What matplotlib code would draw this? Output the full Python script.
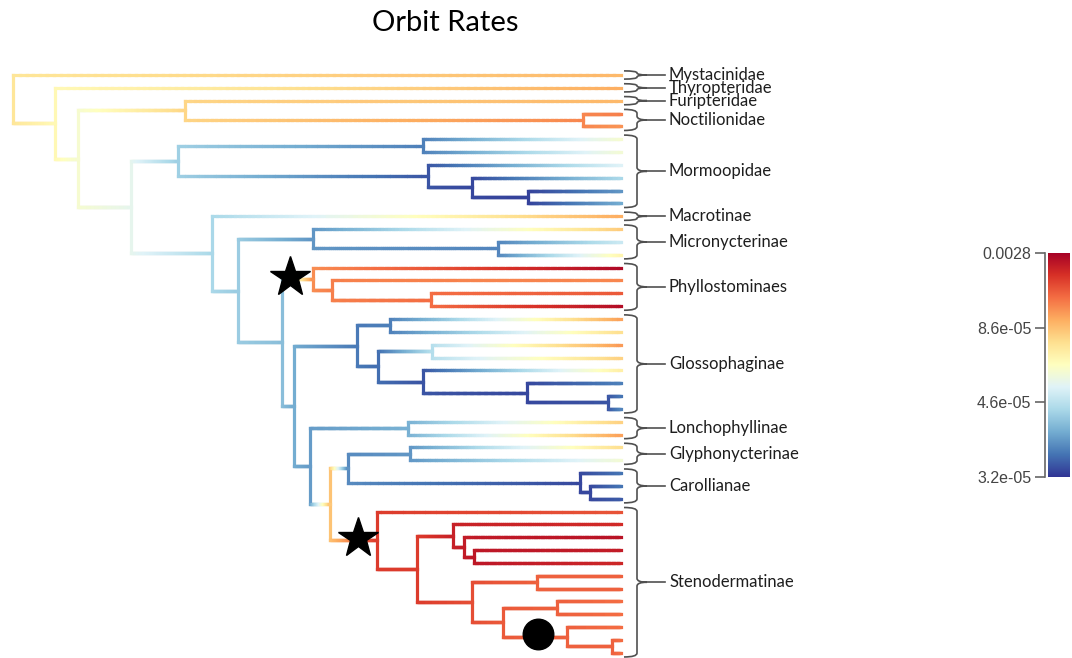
import numpy as np
import matplotlib
matplotlib.use("Agg")
import matplotlib.pyplot as plt
from matplotlib.collections import LineCollection
from matplotlib.path import Path
from matplotlib.patches import PathPatch

# ---------------------------------------------------------------
# data: tree (node depth, scaled rate 0..1) and clade annotations
# ---------------------------------------------------------------
def tip(rate):
    return {"rate": rate, "kids": [], "tag": None}

def node(x, rate, *kids, tag=None):
    return {"x": x, "rate": rate, "kids": list(kids), "tag": tag}

TIP_X = 621

noctilionidae = node(583, 0.76, tip(0.77), tip(0.74))
mormoopidae = node(178, 0.28,
                   node(423, 0.12, tip(0.47), tip(0.46)),
                   node(428, 0.05, tip(0.40),
                        node(472, 0.03, tip(0.30),
                             node(528, 0.02, tip(0.16), tip(0.20)))))
micronycterinae = node(313, 0.16, tip(0.64),
                       node(498, 0.13, tip(0.36), tip(0.53)))
phyllostominae = node(313, 0.75, tip(0.98),
                      node(332, 0.77, tip(0.76),
                           node(431, 0.80, tip(0.83), tip(0.97))),
                      tag="star")
glossophaginae = node(357, 0.11,
                      node(390, 0.12, tip(0.72), tip(0.60)),
                      node(378, 0.09,
                           node(432, 0.32, tip(0.73), tip(0.63)),
                           node(423, 0.05, tip(0.55),
                                node(527, 0.03, tip(0.12),
                                     node(608, 0.05, tip(0.10), tip(0.13))))))
lonchophyllinae = node(408, 0.21, tip(0.63), tip(0.72))
glyphonycterinae = node(410, 0.16, tip(0.60), tip(0.46))
carollianae = node(580, 0.03, tip(0.10),
                   node(590, 0.03, tip(0.10), tip(0.06)))
steno_a = node(453, 0.93, tip(0.91),
               node(464, 0.94, tip(0.96),
                    node(474, 0.95, tip(0.94), tip(0.92))))
steno_b = node(472, 0.85,
               node(537, 0.82, tip(0.82), tip(0.82)),
               node(503, 0.83,
                    node(557, 0.82, tip(0.80), tip(0.80)),
                    node(567, 0.82, tip(0.80),
                         node(612, 0.82, tip(0.80), tip(0.80)),
                         tag="dot")))
stenodermatinae = node(377, 0.88, tip(0.84),
                       node(417, 0.88, steno_a, steno_b),
                       tag="star")

core = node(310, 0.17, lonchophyllinae,
            node(330, 0.66,
                 node(348, 0.14, glyphonycterinae, carollianae),
                 stenodermatinae))
phyllostomidae = node(212, 0.30,
                      tip(0.70),
                      node(238, 0.27, micronycterinae,
                           node(282, 0.24, phyllostominae,
                                node(294, 0.20, glossophaginae, core))))
tree = node(13, 0.58,
            tip(0.68),
            node(55, 0.52,
                 tip(0.70),
                 node(78, 0.47,
                      node(185, 0.62, tip(0.68), noctilionidae),
                      node(131, 0.42, mormoopidae, phyllostomidae))))

clade_names = ["Mystacinidae", "Thyropteridae", "Furipteridae", "Noctilionidae",
               "Mormoopidae", "Macrotinae", "Micronycterinae", "Phyllostominaes",
               "Glossophaginae", "Lonchophyllinae", "Glyphonycterinae",
               "Carollianae", "Stenodermatinae"]
clade_sizes = [1, 1, 1, 2, 6, 1, 3, 4, 8, 2, 2, 3, 12]

cbar_ticks = [0, 1 / 3, 2 / 3, 1]
cbar_labels = ["3.2e-05", "4.6e-05", "8.6e-05", "0.0028"]

cmap = plt.get_cmap("RdYlBu_r")

# ---------------------------------------------------------------
# layout: tips get consecutive rows, internal nodes sit mid-way
# ---------------------------------------------------------------
rows = [0]

def layout(n, parent=None):
    n["parent"] = parent
    if not n["kids"]:
        n["x"] = TIP_X
        n["y"] = rows[0]
        rows[0] += 1
        return
    for k in n["kids"]:
        layout(k, n)
    n["y"] = (n["kids"][0]["y"] + n["kids"][-1]["y"]) / 2

layout(tree)

segs, cols = [], []
vsegs, vcols = [], []
marks = []

def collect(n):
    if n["tag"] is not None:
        marks.append(n)
    for k in n["kids"]:
        xs = np.linspace(n["x"], k["x"], 90)
        rs = np.linspace(n["rate"], k["rate"], 90)
        for i in range(len(xs) - 1):
            segs.append([(xs[i], k["y"]), (xs[i + 1], k["y"])])
            cols.append(cmap((rs[i] + rs[i + 1]) / 2))
        collect(k)
    if n["kids"]:
        vsegs.append([(n["x"], n["kids"][0]["y"]), (n["x"], n["kids"][-1]["y"])])
        vcols.append(cmap(n["rate"]))

collect(tree)

fig = plt.figure(figsize=(10.72, 6.58), dpi=100)
ax = fig.add_axes([0, 0, 1, 1])
ax.set_xlim(0, 1072)
ax.set_ylim(45.40, -5.84)
ax.axis("off")

ax.add_collection(LineCollection(vsegs, colors=vcols, linewidths=2.3,
                                 capstyle="projecting"))
ax.add_collection(LineCollection(segs, colors=cols, linewidths=2.3,
                                 capstyle="projecting"))

# star / dot markers along the stem branch of tagged clades
mark_pos = {"star": [0.26, 0.60], "dot": [0.55]}
for nd in marks:
    frac = mark_pos[nd["tag"]].pop(0)
    px = nd["parent"]["x"]
    if nd["tag"] == "star":
        ax.plot(px + frac * (nd["x"] - px), nd["y"] - 0.15, marker="*", ms=30,
                color="black", zorder=5)
    else:
        ax.plot(px + frac * (nd["x"] - px), nd["y"] - 0.2, marker="o", ms=22,
                color="black", zorder=5)

# clade braces and names
def brace(y0, y1, x0=624, xv=637, xp=647):
    ym = (y0 + y1) / 2
    r = min(0.3, (y1 - y0) / 4)
    verts = [(x0, y0), (xv, y0), (xv, y0 + r), (xv, ym - r),
             (xv, ym), (xp, ym), (xv, ym), (xv, ym + r),
             (xv, y1 - r), (xv, y1), (x0, y1)]
    codes = [Path.MOVETO, Path.CURVE3, Path.CURVE3, Path.LINETO,
             Path.CURVE3, Path.CURVE3, Path.CURVE3, Path.CURVE3,
             Path.LINETO, Path.CURVE3, Path.CURVE3]
    ax.add_patch(PathPatch(Path(verts, codes), fill=False, ec="#505050", lw=1.2))
    ax.plot([xp, 665], [ym, ym], color="#505050", lw=1.2)
    return ym

start = 0
for name, size in zip(clade_names, clade_sizes):
    ym = brace(start - 0.32, start + size - 1 + 0.32)
    ax.text(669, ym, name, ha="left", va="center", fontsize=12,
            family="Lato", color="#1e1e1e")
    start += size

fig.text(445 / 1072, 1 - 23 / 658, "Orbit Rates", ha="center", va="center",
         fontsize=21, family="Lato", color="black")

# colour bar
cax = fig.add_axes([1048 / 1072, (658 - 477) / 658, 22 / 1072, 224 / 658])
cax.imshow(np.linspace(0, 1, 256)[:, None], aspect="auto", cmap=cmap,
           origin="lower", extent=[0, 1, 0, 1])
for s in ["right", "top", "bottom"]:
    cax.spines[s].set_visible(False)
cax.spines["left"].set_position(("outward", 2))
cax.spines["left"].set_color("#666666")
cax.spines["left"].set_linewidth(1.2)
cax.set_xticks([])
cax.set_yticks(cbar_ticks)
cax.set_yticklabels(cbar_labels, family="Liberation Sans", fontsize=11.5,
                    color="#444444")
cax.tick_params(axis="y", length=7, width=1.2, color="#666666", pad=3)

fig.savefig("out.png", dpi=100)
